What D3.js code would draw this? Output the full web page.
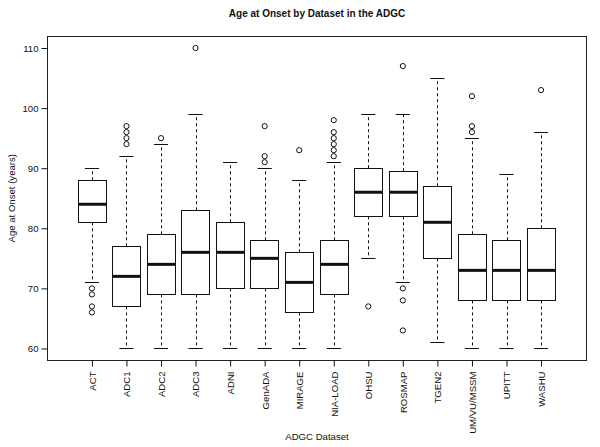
<!DOCTYPE html>
<html>
<head>
<meta charset="utf-8">
<script src="https://cdn.jsdelivr.net/npm/d3@7/dist/d3.min.js"></script>
<style>
  html, body { margin: 0; padding: 0; background: #fff; }
  svg { display: block; }
  text { font-family: "Liberation Sans", Arial, Helvetica, sans-serif; fill: #111; }
</style>
</head>
<body>
<svg id="chart" width="600" height="447"></svg>
<script>
const categories = ["ACT","ADC1","ADC2","ADC3","ADNI","GenADA","MIRAGE","NIA-LOAD","OHSU","ROSMAP","TGEN2","UM/VU/MSSM","UPITT","WASHU"];
const lowerWhisker = [71,60,60,60,60,60,60,60,75,71,61,60,60,60];
const q1 =           [81,67,69,69,70,70,66,69,82,82,75,68,68,68];
const medians =      [84,72,74,76,76,75,71,74,86,86,81,73,73,73];
const q3 =           [88,77,79,83,81,78,76,78,90,89.5,87,79,78,80];
const upperWhisker = [90,92,94,99,91,90,88,91,99,99,105,95,89,96];
const outliers = [
  [70,69,67,66], [97,96,95,94], [95], [110], [], [97,92,91], [93],
  [98,96,95,94,93,92], [67], [107,70,68,63], [], [102,97,96], [], [103]
];
const yTicks = [60,70,80,90,100,110];
const titleText = "Age at Onset by Dataset in the ADGC";
const xTitle = "ADGC Dataset";
const yTitle = "Age at Onset (years)";

const svg = d3.select("#chart");
const pLeft = 47, pRight = 587, pTop = 36, pBottom = 360.5;
const n = categories.length;

const x = d3.scaleLinear().domain([-0.3, n + 1.33]).range([pLeft, pRight]);
const y = d3.scaleLinear().domain([58, 112]).range([pBottom, pTop]);
const unit = x(2) - x(1);
const boxW = 0.82 * unit;
const stapleW = boxW / 2;
const ink = "#111";

const data = categories.map((c, i) => ({
  name: c, pos: i + 1,
  lo: lowerWhisker[i], q1: q1[i], med: medians[i], q3: q3[i], hi: upperWhisker[i],
  out: outliers[i]
}));

// Title
svg.append("text").attr("x", (pLeft + pRight) / 2).attr("y", 17)
  .attr("text-anchor", "middle").attr("font-size", "10px").attr("font-weight", "bold")
  .text(titleText);

const g = svg.append("g");
const groups = g.selectAll("g.box").data(data).join("g").attr("class", "box");

// whiskers (dashed)
groups.append("line")
  .attr("x1", d => Math.round(x(d.pos)) + 0.5).attr("x2", d => Math.round(x(d.pos)) + 0.5)
  .attr("y1", d => y(d.q3)).attr("y2", d => y(d.hi))
  .attr("stroke", ink).attr("stroke-dasharray", "3,3");
groups.append("line")
  .attr("x1", d => Math.round(x(d.pos)) + 0.5).attr("x2", d => Math.round(x(d.pos)) + 0.5)
  .attr("y1", d => y(d.q1)).attr("y2", d => y(d.lo))
  .attr("stroke", ink).attr("stroke-dasharray", "3,3");
// staples
["hi", "lo"].forEach(k => {
  groups.append("line")
    .attr("x1", d => x(d.pos) - stapleW / 2).attr("x2", d => x(d.pos) + stapleW / 2)
    .attr("y1", d => Math.round(y(d[k])) + 0.5).attr("y2", d => Math.round(y(d[k])) + 0.5)
    .attr("stroke", ink);
});
// box
groups.append("rect")
  .attr("x", d => Math.round(x(d.pos) - boxW / 2) + 0.5)
  .attr("y", d => Math.round(y(d.q3)) + 0.5)
  .attr("width", Math.round(boxW))
  .attr("height", d => Math.round(y(d.q1)) - Math.round(y(d.q3)))
  .attr("fill", "#fff").attr("stroke", ink);
// median
groups.append("line")
  .attr("x1", d => Math.round(x(d.pos) - boxW / 2) + 0.5)
  .attr("x2", d => Math.round(x(d.pos) - boxW / 2) + 0.5 + Math.round(boxW))
  .attr("y1", d => y(d.med)).attr("y2", d => y(d.med))
  .attr("stroke", ink).attr("stroke-width", 3);
// outliers
groups.each(function(d) {
  d3.select(this).selectAll("circle").data(d.out).join("circle")
    .attr("cx", x(d.pos)).attr("cy", v => y(v)).attr("r", 2.6)
    .attr("fill", "none").attr("stroke", ink).attr("stroke-width", 1);
});

// frame
svg.append("rect").attr("x", pLeft + 0.5).attr("y", pTop + 0.5)
  .attr("width", pRight - pLeft - 1).attr("height", pBottom - pTop - 0.5)
  .attr("fill", "none").attr("stroke", "#222");

// y axis
const yAxis = svg.append("g").attr("transform", `translate(${pLeft + 0.5},0)`)
  .call(d3.axisLeft(y).tickValues(yTicks).tickSize(6).tickSizeOuter(0).tickPadding(3));
yAxis.select(".domain").remove();
yAxis.selectAll("line").attr("stroke", ink);
yAxis.selectAll("text").attr("font-size", "9.6px").style("font-family", "'Liberation Sans', Arial, sans-serif").attr("fill", "#111");

// x axis
const xAxis = svg.append("g").attr("transform", `translate(0,${pBottom})`)
  .call(d3.axisBottom(x).tickValues(d3.range(1, n + 1)).tickFormat(i => categories[i - 1])
    .tickSize(6).tickSizeOuter(0));
xAxis.select(".domain").remove();
xAxis.selectAll("line").attr("stroke", ink);
xAxis.selectAll("text")
  .attr("font-size", "9.6px").style("font-family", "'Liberation Sans', Arial, sans-serif").attr("fill", "#111")
  .attr("transform", "rotate(-90)")
  .attr("text-anchor", "end")
  .attr("x", -11).attr("y", 0).attr("dy", "0.35em");

// axis titles
svg.append("text").attr("x", (pLeft + pRight) / 2).attr("y", 440)
  .attr("text-anchor", "middle").attr("font-size", "9.6px").text(xTitle);
svg.append("text").attr("transform", `translate(15,${(pTop + pBottom) / 2}) rotate(-90)`)
  .attr("text-anchor", "middle").attr("font-size", "9.6px").text(yTitle);
</script>
</body>
</html>
